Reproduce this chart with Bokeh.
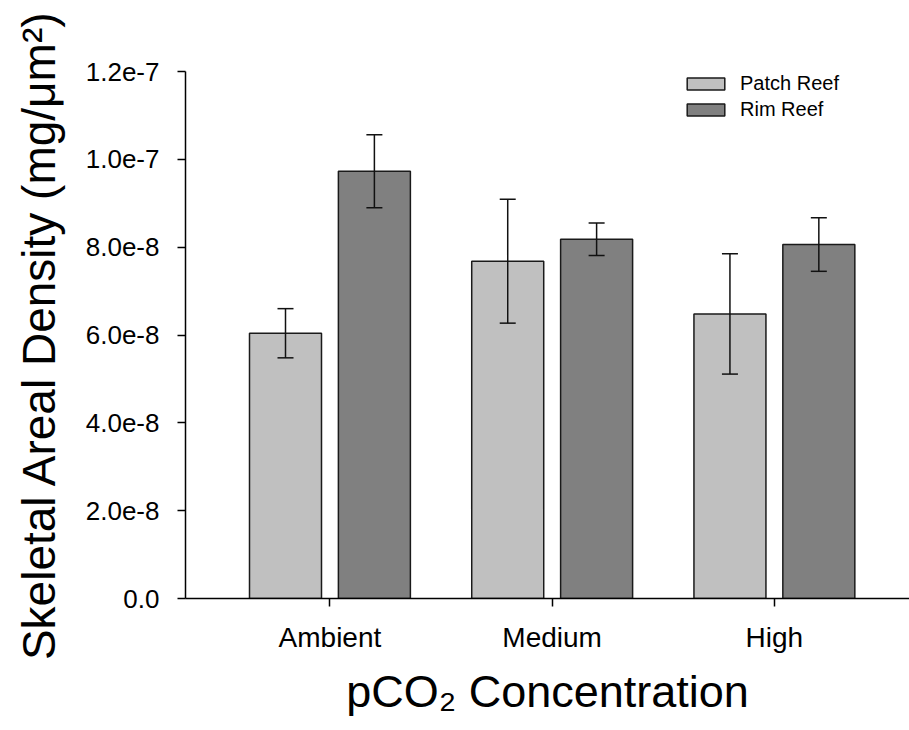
from bokeh.plotting import figure
from bokeh.models import (ColumnDataSource, Range1d, FixedTicker, CustomJSTickFormatter,
                          Whisker, TeeHead, Legend, LegendItem)
from bokeh.transform import dodge
from bokeh.embed import file_html
from bokeh.resources import INLINE

# ---- data ----
categories = ["Ambient", "Medium", "High"]
patch_reef = [6.04e-8, 7.68e-8, 6.48e-8]
patch_err = [0.56e-8, 1.41e-8, 1.37e-8]
rim_reef = [9.73e-8, 8.18e-8, 8.06e-8]
rim_err = [0.83e-8, 0.37e-8, 0.61e-8]
y_ticks = [0.0, 2e-8, 4e-8, 6e-8, 8e-8, 1.0e-7, 1.2e-7]
y_tick_labels = ["0.0", "2.0e-8", "4.0e-8", "6.0e-8", "8.0e-8", "1.0e-7", "1.2e-7"]
series_names = ["Patch Reef", "Rim Reef"]
x_title = "pCO\u2082 Concentration"
y_title = "Skeletal Areal Density (mg/\u03bcm\u00b2)"

FONT = "Liberation Sans"
x_idx = list(range(len(categories)))

src = ColumnDataSource(dict(
    x=x_idx,
    patch=patch_reef,
    patch_lo=[v - e for v, e in zip(patch_reef, patch_err)],
    patch_hi=[v + e for v, e in zip(patch_reef, patch_err)],
    rim=rim_reef,
    rim_lo=[v - e for v, e in zip(rim_reef, rim_err)],
    rim_hi=[v + e for v, e in zip(rim_reef, rim_err)],
))

p = figure(width=909, height=730, output_backend="svg", toolbar_location=None,
           x_range=Range1d(-0.650, 2.608), y_range=Range1d(0, 1.2e-7),
           min_border_left=185, min_border_right=0, min_border_top=71,
           min_border_bottom=132)
p.outline_line_color = None
p.xgrid.visible = False
p.ygrid.visible = False
p.background_fill_color = "white"
p.border_fill_color = "white"

OFF = 0.2
W = 0.324
r1 = p.vbar(x=dodge("x", -OFF), top="patch", width=W, source=src,
            fill_color="#c0c0c0", line_color="#1a1a1a", line_width=1.5)
r2 = p.vbar(x=dodge("x", OFF), top="rim", width=W, source=src,
            fill_color="#808080", line_color="#1a1a1a", line_width=1.5)

for lo, hi, off in (("patch_lo", "patch_hi", -OFF), ("rim_lo", "rim_hi", OFF)):
    w = Whisker(source=src, base=dodge("x", off), lower=lo, upper=hi,
                line_color="#111111", line_width=1.5, level="overlay",
                upper_head=TeeHead(size=16, line_color="#111111", line_width=1.5),
                lower_head=TeeHead(size=16, line_color="#111111", line_width=1.5))
    p.add_layout(w)

# axes
xa = p.xaxis[0]
xa.ticker = FixedTicker(ticks=x_idx)
xa.formatter = CustomJSTickFormatter(args=dict(cat_labels=categories),
                                     code="return cat_labels[Math.round(tick)] || '';")
xa.major_tick_out = 8
xa.major_tick_in = 0
xa.minor_tick_out = 0
xa.minor_tick_in = 0
xa.major_label_text_font = FONT
xa.major_label_text_font_size = "28px"
xa.major_label_text_color = "black"
xa.major_label_standoff = 15
xa.axis_label = x_title
xa.axis_label_text_font = FONT
xa.axis_label_text_font_size = "45px"
xa.axis_label_text_font_style = "normal"
xa.axis_label_text_color = "black"
xa.axis_label_standoff = 10
xa.axis_line_width = 1.5
xa.major_tick_line_width = 1.5

ya = p.yaxis[0]
ya.ticker = FixedTicker(ticks=y_ticks)
ya.formatter = CustomJSTickFormatter(args=dict(tvals=y_ticks, tlabels=y_tick_labels),
    code="""
let best = 0, d = Infinity;
for (let i = 0; i < tvals.length; i++) {
  const dd = Math.abs(tvals[i] - tick);
  if (dd < d) { d = dd; best = i; }
}
return tlabels[best];
""")
ya.major_tick_out = 8
ya.major_tick_in = 0
ya.minor_tick_out = 0
ya.minor_tick_in = 0
ya.major_label_text_font = FONT
ya.major_label_text_font_size = "26px"
ya.major_label_text_color = "black"
ya.major_label_standoff = 18
ya.axis_label = y_title
ya.axis_label_text_font = FONT
ya.axis_label_text_font_size = "46px"
ya.axis_label_text_font_style = "normal"
ya.axis_label_text_color = "black"
ya.axis_label_standoff = 18
ya.axis_line_width = 1.5
ya.major_tick_line_width = 1.5

legend = Legend(items=[LegendItem(label=series_names[0], renderers=[r1]),
                       LegendItem(label=series_names[1], renderers=[r2])],
                location=(497, 477), padding=0, margin=0, spacing=3,
                glyph_width=47, glyph_height=15, label_standoff=11,
                label_width=110, label_height=23,
                label_text_font=FONT, label_text_font_size="20px",
                label_text_color="black",
                border_line_alpha=0, background_fill_alpha=0)
p.add_layout(legend, "center")

open("out.html", "w").write(file_html(p, INLINE))
